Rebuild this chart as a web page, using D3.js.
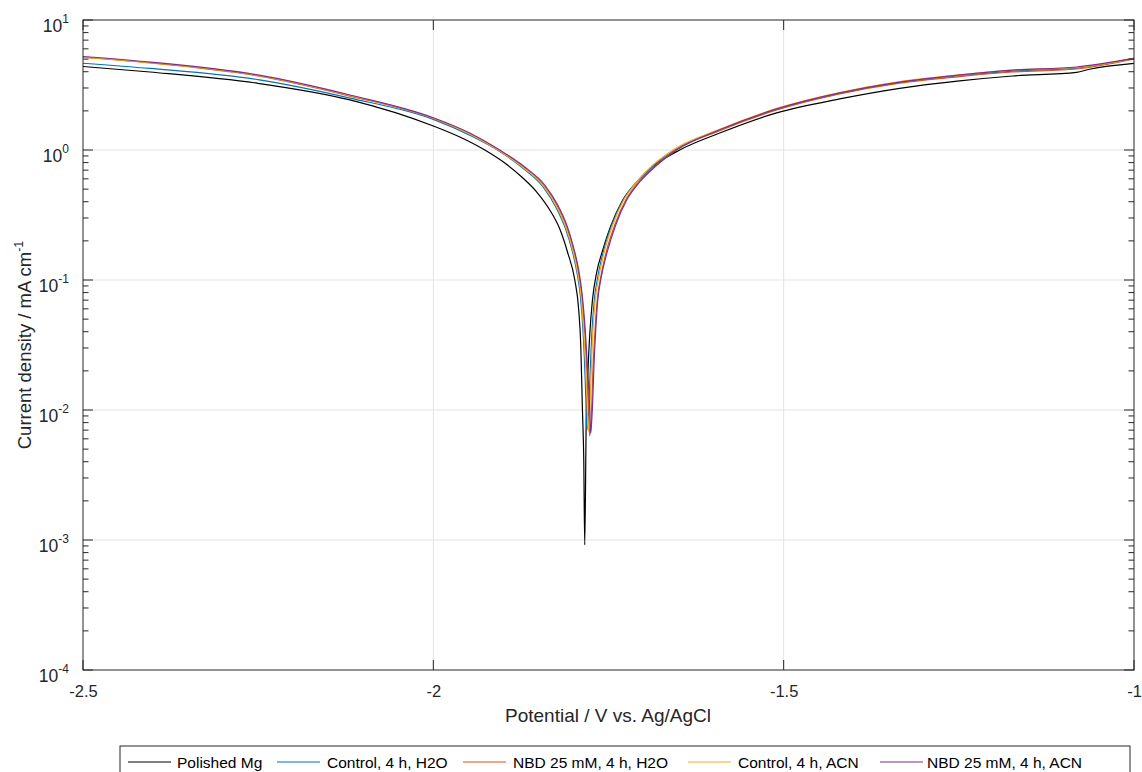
<!DOCTYPE html>
<html>
<head>
<meta charset="utf-8">
<script src="https://cdn.jsdelivr.net/npm/d3@7"></script>
<style>
  html, body { margin: 0; padding: 0; background: #fff; }
  svg { display: block; font-family: "Liberation Sans", Arial, Helvetica, sans-serif; }
</style>
</head>
<body>
<svg id="chart" width="1142" height="772"></svg>
<script>
// ---------- data ----------
const seriesNames = ["Polished Mg", "Control, 4 h, H2O", "NBD 25 mM, 4 h, H2O", "Control, 4 h, ACN", "NBD 25 mM, 4 h, ACN"];
const seriesColors = ["#000000", "#0072BD", "#D95319", "#EDB120", "#7E2F8E"];

const xTicks = [-2.5, -2, -1.5, -1];
const xTickLabels = ["-2.5", "-2", "-1.5", "-1"];
const yTickExps = [-4, -3, -2, -1, 0, 1];

// Polished Mg
const polishedE = [-2.5, -2.4044, -2.2504, -2.1191, -2.0, -1.9622, -1.9265, -1.898, -1.8738, -1.8524, -1.8338, -1.8195, -1.8081, -1.7981, -1.7925, -1.7896, -1.7872, -1.7853, -1.7839, -1.7818, -1.7796, -1.7768, -1.7729, -1.7668, -1.7582, -1.7468, -1.7297, -1.7083, -1.6869, -1.6484, -1.5913, -1.51, -1.4201, -1.3345, -1.2489, -1.1733, -1.082, -1.0635, -1.0];
const polishedI = [4.39, 3.98, 3.26, 2.43, 1.53, 1.259, 1.0, 0.794, 0.62, 0.475, 0.3455, 0.2467, 0.1614, 0.1, 0.0588, 0.0316, 0.01, 0.00412, 0.000916, 0.00837, 0.0186, 0.0378, 0.0702, 0.115, 0.17, 0.26, 0.412, 0.578, 0.745, 1.0, 1.35, 1.93, 2.47, 2.98, 3.4, 3.71, 3.96, 4.18, 4.64];

// Control, 4 h, H2O
const ctrlH2OE = [-2.5, -2.4044, -2.2504, -2.1191, -2.0, -1.948, -1.9052, -1.8716, -1.8431, -1.8245, -1.8117, -1.8017, -1.7946, -1.7903, -1.786, -1.7832, -1.7818, -1.7811, -1.7803, -1.7789, -1.7775, -1.7761, -1.7739, -1.7703, -1.7661, -1.7568, -1.7454, -1.729, -1.7097, -1.6876, -1.6555, -1.5913, -1.51, -1.4201, -1.3345, -1.2489, -1.1733, -1.082, -1.0];
const ctrlH2OI = [4.65, 4.24, 3.48, 2.51, 1.72, 1.3, 0.974, 0.721, 0.519, 0.358, 0.251, 0.167, 0.111, 0.0767, 0.0378, 0.017, 0.01, 0.00753, 0.00715, 0.00868, 0.0125, 0.0203, 0.0378, 0.0702, 0.1, 0.17, 0.265, 0.412, 0.568, 0.746, 1.0, 1.43, 2.05, 2.72, 3.31, 3.74, 4.05, 4.27, 5.06];

// NBD 25 mM, 4 h, H2O
const nbdH2OE = [-2.5, -2.4044, -2.2504, -2.1191, -2.0, -1.948, -1.9052, -1.8702, -1.8417, -1.8231, -1.8103, -1.8003, -1.7932, -1.7882, -1.7839, -1.7803, -1.7782, -1.7775, -1.7768, -1.7753, -1.7739, -1.7725, -1.7696, -1.7661, -1.7618, -1.7525, -1.7411, -1.7254, -1.7069, -1.6854, -1.6541, -1.5913, -1.51, -1.4201, -1.3345, -1.2489, -1.1733, -1.082, -1.0];
const nbdH2OI = [5.15, 4.67, 3.71, 2.6, 1.75, 1.33, 0.982, 0.734, 0.529, 0.371, 0.26, 0.173, 0.117, 0.0753, 0.0398, 0.017, 0.01, 0.00727, 0.00631, 0.00767, 0.0109, 0.0186, 0.0378, 0.0702, 0.1, 0.17, 0.265, 0.412, 0.568, 0.74, 1.0, 1.41, 2.03, 2.7, 3.27, 3.67, 3.98, 4.2, 5.01];

// Control, 4 h, ACN
const ctrlACNE = [-2.5, -2.4044, -2.2504, -2.1191, -2.0, -1.948, -1.9052, -1.8709, -1.8424, -1.8238, -1.811, -1.801, -1.7939, -1.7889, -1.7853, -1.7818, -1.7803, -1.7796, -1.7789, -1.7775, -1.7761, -1.7746, -1.7725, -1.7689, -1.7646, -1.7553, -1.7439, -1.7283, -1.7097, -1.6883, -1.6569, -1.5913, -1.51, -1.4201, -1.3345, -1.2489, -1.1733, -1.082, -1.0];
const ctrlACNI = [5.19, 4.71, 3.74, 2.63, 1.76, 1.33, 0.982, 0.728, 0.524, 0.364, 0.256, 0.17, 0.113, 0.0727, 0.0391, 0.017, 0.01, 0.00767, 0.00689, 0.00837, 0.0119, 0.0203, 0.0378, 0.0702, 0.1, 0.17, 0.265, 0.412, 0.568, 0.753, 1.01, 1.44, 2.09, 2.77, 3.36, 3.78, 4.12, 4.31, 5.06];

// NBD 25 mM, 4 h, ACN
const nbdACNE = [-2.5, -2.4044, -2.2504, -2.1191, -2.0, -1.948, -1.9052, -1.8695, -1.841, -1.8224, -1.8096, -1.7996, -1.7925, -1.7875, -1.7832, -1.7789, -1.7768, -1.7761, -1.7753, -1.7739, -1.7725, -1.771, -1.7682, -1.7653, -1.7611, -1.7511, -1.7397, -1.724, -1.7054, -1.684, -1.6527, -1.5913, -1.51, -1.4201, -1.3345, -1.2489, -1.1733, -1.082, -1.0];
const nbdACNI = [5.24, 4.75, 3.78, 2.65, 1.77, 1.35, 1.0, 0.74, 0.538, 0.377, 0.265, 0.176, 0.119, 0.0767, 0.0412, 0.017, 0.01, 0.00767, 0.00665, 0.00837, 0.0119, 0.0203, 0.0412, 0.0702, 0.1, 0.17, 0.265, 0.412, 0.568, 0.74, 1.0, 1.43, 2.07, 2.75, 3.33, 3.78, 4.12, 4.35, 5.06];

const seriesE = [polishedE, ctrlH2OE, nbdH2OE, ctrlACNE, nbdACNE];
const seriesI = [polishedI, ctrlH2OI, nbdH2OI, ctrlACNI, nbdACNI];

// ---------- layout ----------
const svg = d3.select("#chart");
const padL = 83, padR = 1134, padT = 20, padB = 670;
const axisColor = "#262626";
const gridColor = "#e3e3e3";

const x = d3.scaleLinear().domain([-2.5, -1]).range([padL, padR]);
const y = d3.scaleLog().domain([1e-4, 10]).range([padB, padT]);

// grid
const grid = svg.append("g");
grid.selectAll("line.gx").data(xTicks.slice(1, -1)).enter().append("line")
  .attr("x1", d => x(d)).attr("x2", d => x(d)).attr("y1", padT).attr("y2", padB)
  .attr("stroke", gridColor).attr("stroke-width", 1);
grid.selectAll("line.gy").data(yTickExps.slice(1, -1)).enter().append("line")
  .attr("x1", padL).attr("x2", padR).attr("y1", d => y(Math.pow(10, d))).attr("y2", d => y(Math.pow(10, d)))
  .attr("stroke", gridColor).attr("stroke-width", 1);

// lines
const plot = svg.append("g");
seriesNames.forEach((name, k) => {
  const pts = seriesE[k].map((e, i) => [e, seriesI[k][i]]);
  const line = d3.line().x(d => x(d[0])).y(d => y(d[1])).curve(d3.curveMonotoneX);
  plot.append("path").datum(pts)
    .attr("d", line)
    .attr("fill", "none")
    .attr("stroke", seriesColors[k])
    .attr("stroke-width", 1.2)
    .attr("stroke-linejoin", "round");
});

// axes: box + ticks (inside, on all four sides)
const ax = svg.append("g");
ax.append("rect").attr("x", padL).attr("y", padT).attr("width", padR - padL).attr("height", padB - padT)
  .attr("fill", "none").attr("stroke", axisColor).attr("stroke-width", 1);

const majorLen = 10, minorLen = 5.5;
xTicks.forEach(t => {
  ax.append("line").attr("x1", x(t)).attr("x2", x(t)).attr("y1", padB).attr("y2", padB - majorLen).attr("stroke", axisColor);
  ax.append("line").attr("x1", x(t)).attr("x2", x(t)).attr("y1", padT).attr("y2", padT + majorLen).attr("stroke", axisColor);
});
const xAxis = d3.axisBottom(x).tickValues(xTicks).tickFormat((d, i) => xTickLabels[i]).tickSize(0).tickPadding(0);
const xg = svg.append("g").attr("transform", `translate(0,${padB + 15})`).call(xAxis);
xg.select(".domain").remove();
xg.selectAll("text").attr("font-size", "16.5px").attr("fill", axisColor)
  .attr("font-family", "'Liberation Sans', Arial, sans-serif").attr("dy", "0.71em");

yTickExps.forEach(e => {
  const v = Math.pow(10, e);
  [[padL, 1], [padR, -1]].forEach(([x0, dir]) => {
    ax.append("line").attr("x1", x0).attr("x2", x0 + dir * majorLen).attr("y1", y(v)).attr("y2", y(v)).attr("stroke", axisColor);
  });
  if (e < 1) {
    for (let m = 2; m <= 9; m++) {
      const mv = m * v;
      [[padL, 1], [padR, -1]].forEach(([x0, dir]) => {
        ax.append("line").attr("x1", x0).attr("x2", x0 + dir * minorLen).attr("y1", y(mv)).attr("y2", y(mv)).attr("stroke", axisColor);
      });
    }
  }
});
yTickExps.forEach(e => {
  const t = svg.append("text")
    .attr("x", padL - 14).attr("y", y(Math.pow(10, e)) + 12)
    .attr("text-anchor", "end").attr("fill", axisColor)
    .attr("font-size", "17.5px");
  t.append("tspan").text("10");
  t.append("tspan").attr("dy", -9).attr("font-size", "12px").text(String(e));
});

// axis labels
svg.append("text").attr("x", 608).attr("y", 722)
  .attr("text-anchor", "middle").attr("fill", axisColor).attr("font-size", "19px")
  .text("Potential / V vs. Ag/AgCl");
const yl = svg.append("text")
  .attr("transform", `translate(31,${(padT + padB) / 2}) rotate(-90)`)
  .attr("text-anchor", "middle").attr("fill", axisColor).attr("font-size", "18.5px");
yl.append("tspan").text("Current density / mA cm");
yl.append("tspan").attr("dy", -8).attr("font-size", "12.5px").text("-1");

// legend
const lg = svg.append("g");
lg.append("rect").attr("x", 120).attr("y", 746).attr("width", 1010).attr("height", 40)
  .attr("fill", "#fff").attr("stroke", axisColor).attr("stroke-width", 1);
const legendLineX = [128, 277, 463, 688, 880];
const legendTextX = [177, 327, 513, 738, 927];
seriesNames.forEach((name, k) => {
  const lx = legendLineX[k];
  lg.append("line").attr("x1", lx).attr("x2", lx + 43).attr("y1", 762).attr("y2", 762)
    .attr("stroke", seriesColors[k]).attr("stroke-width", 1.2);
  lg.append("text").attr("x", legendTextX[k]).attr("y", 767.5).attr("fill", "#000")
    .attr("font-size", "15.5px").text(name);
});
</script>
</body>
</html>
